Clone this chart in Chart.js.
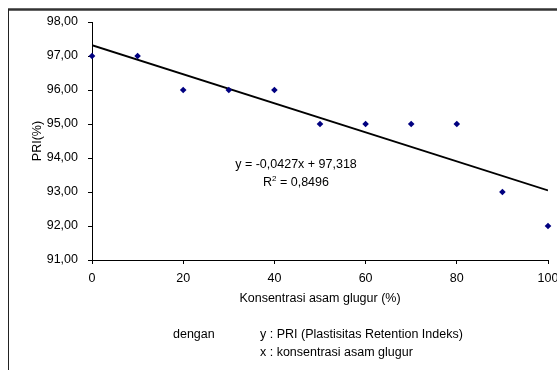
<!DOCTYPE html>
<html>
<head>
<meta charset="utf-8">
<script src="https://cdn.jsdelivr.net/npm/chart.js@4/dist/chart.umd.min.js"></script>
<style>
  html, body { margin: 0; padding: 0; background: #fff; }
  #wrap { width: 557px; height: 370px; position: relative; }
</style>
</head>
<body>
<div id="wrap"><canvas id="priChart" width="557" height="370"></canvas></div>
<script>
// data
const konsentrasi = [0, 10, 20, 30, 40, 50, 60, 70, 80, 90, 100];
const pri = [97, 97, 96, 96, 96, 95, 95, 95, 95, 93, 92];

// trendline as printed on the chart
const trendSlope = -0.0427;
const trendIntercept = 97.318;
const trendLabel = 'y = -0,0427x + 97,318';
const r2Value = '0,8496';

const yTitle = 'PRI(%)';
const xTitle = 'Konsentrasi asam glugur (%)';
const noteLabel = 'dengan';
const noteLines = ['y : PRI (Plastisitas Retention Indeks)', 'x : konsentrasi asam glugur'];

const FONT = 'Liberation Sans, Arial, sans-serif';
const FS = 12.5;

const points = konsentrasi.map((x, i) => ({ x: x, y: pri[i] }));
const xMin = konsentrasi[0], xMax = konsentrasi[konsentrasi.length - 1];
const trendPts = [
    { x: xMin, y: trendSlope * xMin + trendIntercept },
    { x: xMax, y: trendSlope * xMax + trendIntercept }
];

const comma = v => Number(v).toFixed(2).replace('.', ',');

// frame, equation and footnote text
const extras = {
    id: 'extras',
    beforeDraw(chart) {
        const c = chart.ctx;
        c.save();
        c.fillStyle = '#fff';
        c.fillRect(0, 0, chart.width, chart.height);
        c.strokeStyle = '#333';
        c.lineWidth = 2.5;
        c.beginPath();
        c.moveTo(8, 9.5);
        c.lineTo(557, 9.5);
        c.stroke();
        c.strokeStyle = '#222';
        c.lineWidth = 1;
        c.beginPath();
        c.moveTo(8.5, 9);
        c.lineTo(8.5, 370);
        c.stroke();
        c.restore();
    },
    afterDraw(chart) {
        const c = chart.ctx;
        c.save();
        c.fillStyle = '#000';
        c.font = FS + 'px ' + FONT;
        c.textBaseline = 'middle';
        c.textAlign = 'center';
        c.fillText(trendLabel, 296, 165);

        // R² line
        const a = 'R', b = ' = ' + r2Value;
        c.font = FS + 'px ' + FONT;
        const wa = c.measureText(a).width, wb = c.measureText(b).width;
        c.font = '8px ' + FONT;
        const ws = c.measureText('2').width;
        let x = 296 - (wa + ws + wb) / 2;
        c.textAlign = 'left';
        c.font = FS + 'px ' + FONT;
        c.fillText(a, x, 183);
        c.font = '8px ' + FONT;
        c.fillText('2', x + wa, 179);
        c.font = FS + 'px ' + FONT;
        c.fillText(b, x + wa + ws, 183);

        // footnote
        c.fillText(noteLabel, 173, 335);
        c.fillText(noteLines[0], 260, 335);
        c.fillText(noteLines[1], 260, 353);
        c.restore();
    }
};

const ctx = document.getElementById('priChart').getContext('2d');
const priChart = new Chart(ctx, {
    type: 'scatter',
    data: {
        datasets: [
            {
                label: 'PRI',
                data: points,
                pointStyle: 'rectRot',
                pointRadius: 3.3,
                backgroundColor: '#000080',
                borderColor: '#000080',
                borderWidth: 0,
                clip: false,
                order: 1
            },
            {
                type: 'line',
                label: 'Linear',
                data: trendPts,
                borderColor: '#000',
                borderWidth: 1.8,
                pointRadius: 0,
                fill: false,
                order: 2
            }
        ]
    },
    options: {
        responsive: false,
        animation: false,
        events: [],
        layout: { padding: { left: 8, right: 9, top: 22, bottom: 62 } },
        plugins: {
            legend: { display: false },
            tooltip: { enabled: false }
        },
        scales: {
            x: {
                type: 'linear',
                min: 0,
                max: 100,
                border: { display: true, color: '#000', width: 1 },
                grid: { display: true, drawOnChartArea: false, tickLength: 4, color: '#000' },
                ticks: { stepSize: 20, color: '#000', padding: 7, maxRotation: 0, font: { family: FONT, size: FS } },
                title: { display: true, text: xTitle, color: '#000', padding: { top: 0, bottom: 1.5 }, font: { family: FONT, size: FS } },
                afterFit(scale) {
                    scale.height = 48;
                    scale.paddingLeft = 0;
                    scale.paddingRight = 0;
                }
            },
            y: {
                min: 91,
                max: 98,
                border: { display: true, color: '#000', width: 1 },
                grid: { display: true, drawOnChartArea: false, tickLength: 4, color: '#000' },
                ticks: { stepSize: 1, color: '#000', padding: 10, font: { family: FONT, size: FS }, callback: v => comma(v) },
                title: { display: true, text: yTitle, color: '#000', padding: { top: 22, bottom: 0 }, font: { family: FONT, size: FS } },
                afterFit(scale) {
                    scale.width = 84;
                }
            }
        }
    },
    plugins: [extras]
});
</script>
</body>
</html>
